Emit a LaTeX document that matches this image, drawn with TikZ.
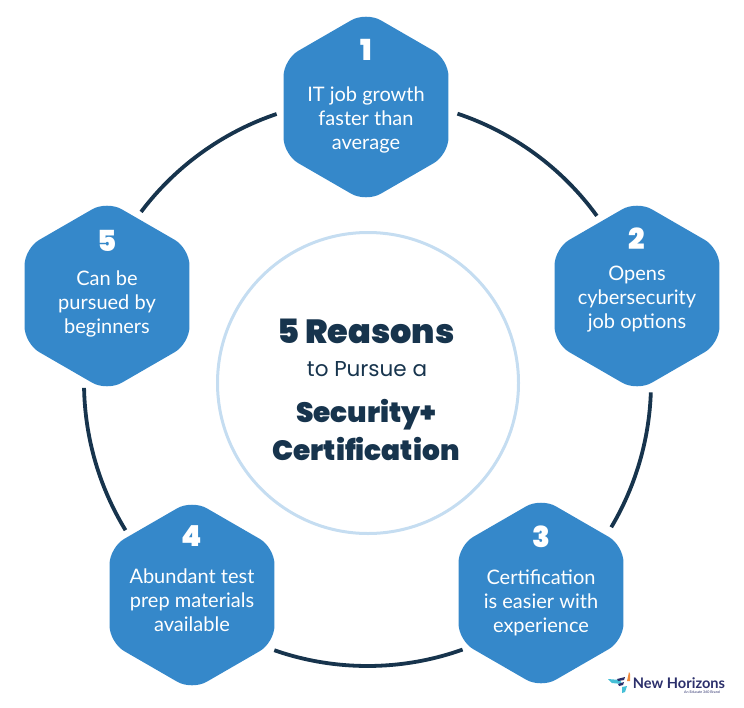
\documentclass[tikz,border=0pt]{standalone}
\usepackage{fontspec}
\setmainfont{Lato}
\newfontfamily\headfont[UprightFont={* Black},BoldFont={* Black}]{Poppins}
\newfontfamily\subfont{Poppins}
\usetikzlibrary{calc, positioning, shapes.geometric}
\definecolor{hexblue}{HTML}{3588CA}
\definecolor{navy}{HTML}{17344D}
\definecolor{paleblue}{HTML}{C5DDF1}
\definecolor{logoteal}{HTML}{45BFD6}
\definecolor{logoorange}{HTML}{F08A3C}
\definecolor{logonavy}{HTML}{2B2F6B}

\begin{document}
\begin{tikzpicture}[x=1pt, y=-1pt]
	\tikzstyle{hexa} = [fill=hexblue, regular polygon, regular polygon sides=6, shape border rotate=30, minimum size=190.5pt, inner sep=0pt, rounded corners=17pt]
	\tikzstyle{hexnum} = [text=white, font=\headfont\fontsize{29}{29}\selectfont]
	\tikzstyle{hextxt} = [text=white, align=center, font=\fontsize{20}{24}\selectfont]
	\tikzstyle{ringline} = [draw=navy, line width=3.8pt]
	\tikzstyle{title} = [text=navy, align=center, font=\headfont\fontsize{28}{38}\selectfont]
	\tikzstyle{bigtitle} = [text=navy, font=\headfont\fontsize{33.5}{38}\selectfont]
	\tikzstyle{subtitle} = [text=navy, font=\subfont\fontsize{21.5}{24}\selectfont]

	\useasboundingbox (0, 0) rectangle (744, 707);

	\coordinate (hub) at (367.5, 382.5);

	% ring between the hexagons
	\foreach \n/\a/\b in {1/-71.5/-36, 2/2/30.7, 3/70.4/109.2, 4/148.6/178.9, 5/217/251.3} {
		\coordinate (arc\n) at ($(hub)+(\a:283.5)$);
		\draw[ringline] (arc\n) arc[start angle=\a, end angle=\b, radius=283.5];
	}

	\node[circle, draw=paleblue, line width=3pt, minimum size=301pt] at (368, 383) (core) {};
	\node[bigtitle] at (366, 331) (head) {5 Reasons};
	\node[subtitle] at (367, 369) (sub) {to Pursue a};
	\node[title] at (366, 430) (cert) {Security+\\Certification};

	\node[hexa] at (366, 107) (h1) {};
	\node[hexa] at (637, 296) (h2) {};
	\node[hexa] at (541, 593) (h3) {};
	\node[hexa] at (192, 595) (h4) {};
	\node[hexa] at (107, 296) (h5) {};

	\node[hexnum] at (366, 50) (n1) {1};
	\node[hexnum] at (637, 239) (n2) {2};
	\node[hexnum] at (541, 537) (n3) {3};
	\node[hexnum] at (192, 536) (n4) {4};
	\node[hexnum] at (107, 241) (n5) {5};

	\node[hextxt] at (366, 120) (t1) {IT job growth\\faster than\\average};
	\node[hextxt] at (637, 299) (t2) {Opens\\cybersecurity\\job options};
	\node[hextxt] at (541, 603) (t3) {Certification\\is easier with\\experience};
	\node[hextxt] at (192, 600) (t4) {Abundant test\\prep materials\\available};
	\node[hextxt] at (107, 304) (t5) {Can be\\pursued by\\beginners};

	% logo
	\fill[logoteal] (608, 679) -- (620, 680) -- (622, 684) -- (612, 683) -- cycle;
	\fill[logoteal] (622, 687) -- (627, 686) -- (625, 692) -- (622, 693) -- cycle;
	\fill[logonavy] (617, 679) -- (625, 677) -- (624, 680) -- (618, 681) -- cycle;
	\fill[logonavy] (618, 684) -- (624, 682) -- (623, 685) -- (619, 686) -- cycle;
	\fill[logoorange] (627, 681) -- (629, 672) -- (630, 674) -- (630, 681) -- cycle;
	\node[text=logonavy, font=\bfseries\fontsize{14.6}{15}\selectfont, inner sep=0pt] at (679, 683) (brand) {New Horizons};
	\node[text=logonavy, font=\fontsize{3.6}{4}\selectfont, inner sep=0pt] at (702, 692) (tag) {An Educate 360 Brand};
\end{tikzpicture}
\end{document}
